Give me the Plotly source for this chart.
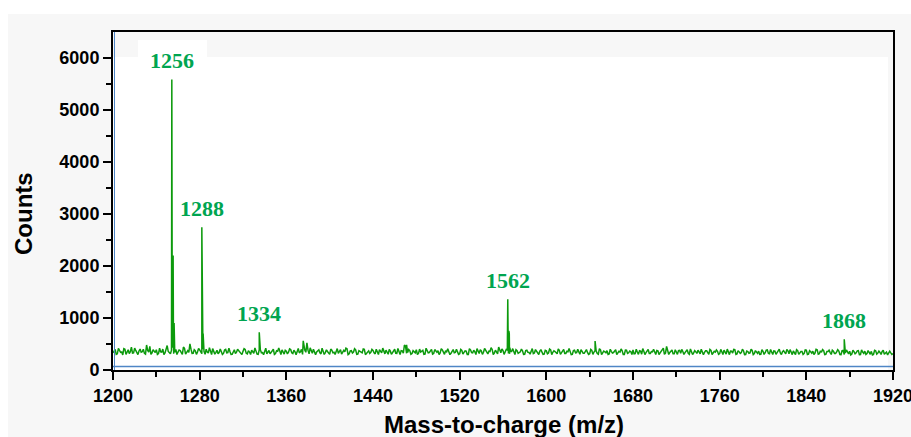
import plotly.graph_objects as go

# ---- data ----
# baseline noise, even m/z values 1200..1920
baseline_even_counts = [
    330, 395, 310, 372, 345, 410, 300, 388, 352, 325, 420, 318, 365, 340, 398, 305, 375, 455, 330, 362,
    390, 315, 350, 402, 328, 470, 335, 380, 310, 395, 345, 372, 300, 415, 350, 338, 400, 322, 368, 345,
    385, 312, 360, 398, 325, 352, 410, 305, 378, 340, 362, 318, 395, 335, 350, 300, 388, 342, 370, 320,
    358, 395, 310, 345, 380, 322, 365, 300, 390, 335, 352, 312, 375, 340, 398, 318, 360, 332, 385, 305,
    362, 340, 392, 315, 350, 378, 328, 395, 470, 340, 380, 425, 320, 360, 345, 388, 310, 372, 335, 355,
    300, 382, 340, 365, 318, 392, 335, 350, 410, 312, 370, 345, 388, 305, 358, 330, 395, 322, 368, 340,
    375, 310, 355, 392, 328, 345, 380, 302, 362, 340, 398, 318, 350, 372, 325, 460, 335, 368, 315, 352,
    390, 320, 345, 378, 305, 360, 335, 395, 318, 352, 370, 328, 385, 300, 348, 365, 322, 392, 338, 355,
    312, 375, 340, 362, 300, 388, 330, 350, 410, 318, 365, 340, 378, 308, 355, 395, 325, 350, 440, 332,
    372, 345, 385, 310, 358, 335, 390, 318, 348, 370, 302, 382, 338, 355, 315, 392, 330, 362, 342, 305,
    368, 325, 385, 340, 355, 310, 378, 332, 395, 318, 350, 365, 300, 380, 335, 348, 390, 322, 360, 338,
    312, 375, 345, 362, 302, 388, 325, 350, 372, 310, 358, 335, 392, 318, 345, 368, 300, 380, 330, 352,
    385, 315, 345, 370, 305, 362, 332, 395, 318, 350, 340, 375, 298, 358, 420, 325, 365, 338, 385, 310,
    348, 372, 320, 355, 335, 390, 302, 362, 328, 348, 380, 312, 352, 338, 368, 300, 378, 325, 345, 360,
    315, 350, 382, 305, 340, 362, 325, 392, 310, 348, 335, 370, 298, 355, 330, 375, 315, 345, 362, 302,
    358, 332, 385, 312, 345, 368, 300, 378, 328, 352, 340, 395, 310, 345, 365, 298, 372, 330, 355, 318,
    382, 305, 350, 362, 325, 390, 312, 340, 372, 300, 355, 335, 380, 318, 348, 365, 295, 375, 328, 345,
    360, 308, 352, 330, 372, 298, 345, 362, 315, 340, 358, 300, 368, 325, 338, 355, 302, 345, 318, 330,
    312,
]
# baseline noise, odd m/z values 1201..1919
baseline_odd_counts = [
    352, 300, 415, 338, 290, 398, 362, 315, 440, 330, 375, 295, 402, 350, 320, 480, 342, 300, 390, 335,
    300, 420, 345, 295, 390, 355, 310, 428, 340, 298, 385, 325, 440, 305, 372, 500, 320, 390, 300, 415,
    335, 398, 300, 345, 430, 295, 372, 340, 310, 405, 300, 382, 330, 420, 298, 365, 315, 400, 340, 295,
    410, 320, 372, 298, 350, 425, 305, 388, 330, 295, 418, 345, 310, 392, 300, 368, 425, 298, 340, 378,
    310, 405, 330, 378, 292, 415, 350, 300, 385, 520, 310, 362, 400, 295, 372, 330, 420, 300, 388, 318,
    402, 330, 298, 412, 352, 305, 378, 420, 296, 365, 325, 410, 300, 372, 335, 402, 295, 360, 318, 395,
    330, 400, 298, 365, 420, 310, 352, 396, 300, 378, 322, 415, 296, 368, 480, 320, 392, 300, 372, 330,
    298, 402, 362, 300, 418, 330, 375, 305, 392, 340, 296, 410, 325, 372, 408, 295, 360, 330, 398, 300,
    395, 305, 368, 300, 410, 335, 378, 296, 352, 390, 300, 415, 322, 362, 430, 298, 380, 310, 368, 405,
    300, 395, 318, 360, 410, 296, 372, 330, 402, 298, 375, 340, 305, 412, 325, 365, 298, 392, 300, 378,
    310, 402, 296, 368, 330, 405, 300, 378, 318, 360, 412, 295, 372, 330, 400, 302, 358, 320, 392, 300,
    395, 300, 372, 318, 410, 296, 365, 332, 300, 398, 325, 372, 296, 358, 405, 300, 382, 318, 365, 298,
    310, 398, 300, 362, 410, 296, 372, 318, 355, 400, 298, 368, 325, 390, 300, 452, 298, 372, 310, 388,
    300, 378, 395, 298, 362, 320, 405, 296, 372, 318, 355, 398, 295, 368, 330, 395, 298, 360, 385, 300,
    395, 298, 330, 402, 295, 360, 395, 300, 372, 318, 398, 296, 365, 322, 400, 295, 372, 318, 298, 388,
    300, 380, 318, 395, 296, 362, 330, 400, 296, 372, 310, 368, 392, 295, 318, 390, 300, 355, 298, 385,
    298, 372, 325, 298, 398, 302, 368, 392, 296, 355, 380, 298, 362, 318, 392, 296, 370, 298, 385, 310,
    290, 380, 310, 368, 295, 385, 318, 298, 372, 302, 290, 378, 305, 362, 298, 378, 318, 290, 362, 300,
]

spike_mz = [1254.3, 1254.7, 1255.2, 1255.5, 1255.8, 1256.4, 1256.9,
            1282.0, 1282.4, 1282.8, 1283.2, 1283.6,
            1335.0, 1375.6, 1471.0,
            1564.4, 1564.8, 1565.4, 1565.8, 1566.3,
            1645.0, 1875.0]
spike_counts = [5580, 520, 1850, 2200, 600, 900, 480,
                2740, 450, 1120, 700, 420,
                723, 560, 485,
                1360, 480, 750, 700, 430,
                557, 590]

peak_labels = ["1256", "1288", "1334", "1562", "1868"]
peak_label_mz = [1254.3, 1282.0, 1335.0, 1564.4, 1875.0]
peak_label_counts = [5580, 2740, 723, 1360, 590]

x_tick_vals = [1200, 1280, 1360, 1440, 1520, 1600, 1680, 1760, 1840, 1920]
y_tick_vals = [0, 1000, 2000, 3000, 4000, 5000, 6000]

# ---- merge baseline and spikes ----
even_mz = list(range(1200, 1921, 2))
odd_mz = list(range(1201, 1920, 2))
pts = sorted(list(zip(even_mz, baseline_even_counts))
             + list(zip(odd_mz, baseline_odd_counts))
             + list(zip(spike_mz, spike_counts)))
xs = [p[0] for p in pts]
ys = [p[1] for p in pts]

LINE = "#0c9a0c"
LABEL = "#00a550"
GRAY = "#f7f7f7"

fig = go.Figure()
fig.add_trace(go.Scatter(x=xs, y=ys, mode="lines",
                         line=dict(color=LINE, width=1.5), hoverinfo="skip",
                         showlegend=False))

for t, mx, my in zip(peak_labels, peak_label_mz, peak_label_counts):
    fig.add_annotation(x=mx, y=my, text="<b>%s</b>" % t, showarrow=False,
                       yanchor="middle", xanchor="center", yshift=19,
                       font=dict(family="Liberation Serif", size=22, color=LABEL))

# plot geometry in pixels: left 113, right 893, top 32, bottom 370
W, H = 911, 437
L, R, T, B = 113, 893, 32, 370
def px(x):
    return (x - L) / (R - L)
def py(y):
    return (B - y) / (B - T)

title_font = dict(family="Liberation Sans, Arial", size=24, color="black")
fig.add_annotation(xref="paper", yref="paper", x=px(23), y=py(214), text="<b>Counts</b>",
                   textangle=-90, showarrow=False, xanchor="center", yanchor="middle",
                   font=title_font)
fig.add_annotation(xref="paper", yref="paper", x=px(504), y=py(424),
                   text="<b>Mass-to-charge (m/z)</b>", showarrow=False,
                   xanchor="center", yanchor="middle", font=title_font)

shapes = [
    dict(type="rect", xref="paper", yref="paper", x0=px(8), x1=px(911), y0=py(437), y1=py(14),
         fillcolor=GRAY, line=dict(width=0), layer="below"),
    dict(type="rect", xref="paper", yref="paper", x0=px(L), x1=px(888), y0=0, y1=py(57),
         fillcolor="white", line=dict(width=0), layer="below"),
    dict(type="rect", xref="paper", yref="paper", x0=px(138), x1=px(207), y0=py(57), y1=py(40),
         fillcolor="white", line=dict(width=0), layer="below"),
    dict(type="line", xref="paper", yref="paper", x0=0, x1=1, y0=py(366.5), y1=py(366.5),
         line=dict(color="#4f86c6", width=1.5)),
    dict(type="line", xref="paper", yref="paper", x0=px(114.5), x1=px(114.5), y0=0, y1=1,
         line=dict(color="#4f86c6", width=1)),
]

axis_font = dict(family="Liberation Sans, Arial", size=18, color="black")
fig.update_layout(
    width=W, height=H,
    margin=dict(l=L, r=W - R, t=T, b=H - B),
    paper_bgcolor="white",
    plot_bgcolor="rgba(0,0,0,0)",
    shapes=shapes,
    xaxis=dict(range=[1200, 1920], tickvals=x_tick_vals,
               ticktext=["<b>%d</b>" % v for v in x_tick_vals],
               ticks="outside", ticklen=8, tickwidth=2, tickcolor="black",
               minor=dict(dtick=40, tick0=1200, ticks="outside", ticklen=5, tickwidth=2, tickcolor="black"),
               showline=True, linecolor="black", linewidth=2, mirror=True,
               showgrid=False, zeroline=False, tickfont=axis_font,
               ticklabeloverflow="allow", automargin=False),
    yaxis=dict(range=[0, 6490], tickvals=y_tick_vals,
               ticktext=["<b>%d</b>" % v for v in y_tick_vals],
               ticks="outside", ticklen=8, tickwidth=2, tickcolor="black",
               minor=dict(dtick=500, tick0=0, ticks="outside", ticklen=5, tickwidth=2, tickcolor="black"),
               showline=True, linecolor="black", linewidth=2, mirror=True,
               showgrid=False, zeroline=False, tickfont=axis_font,
               ticklabeloverflow="allow", automargin=False),
)

fig.write_html("out.html")
